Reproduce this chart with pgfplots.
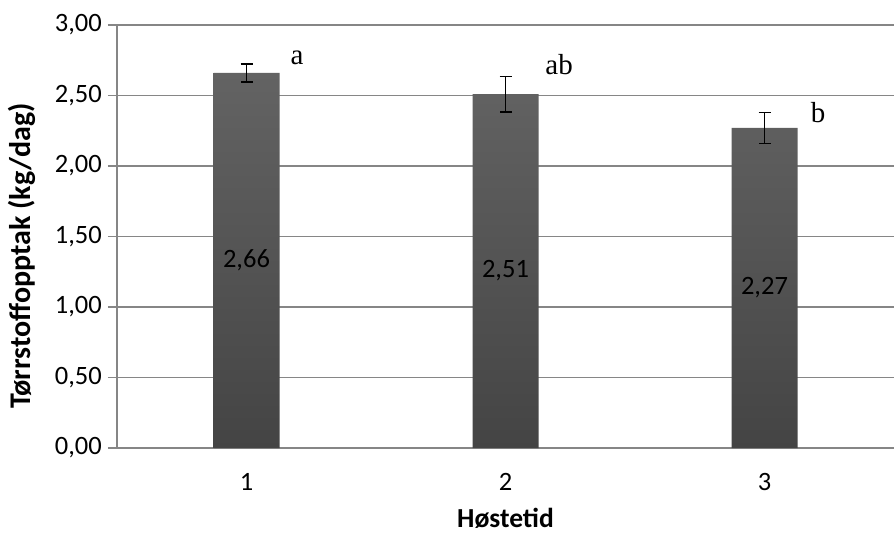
\documentclass[border=0pt]{standalone}
\usepackage{fontspec}
\setmainfont{Carlito}
\newfontfamily\timesf{Liberation Serif}
\usepackage{pgfplots}
\pgfplotsset{compat=1.18}
\definecolor{axgray}{HTML}{868686}
\definecolor{bartop}{HTML}{636363}
\definecolor{barbot}{HTML}{444444}
\begin{document}
\begin{tikzpicture}[x=1pt,y=1pt]
\useasboundingbox (0,0) rectangle (894,533);
\begin{axis}[
  at={(117pt,85pt)}, anchor=south west,
  scale only axis, width=777pt, height=423pt,
  xmin=0.5, xmax=3.5, ymin=0, ymax=3,
  separate axis lines,
  axis x line*=bottom, axis y line*=left,
  axis line style={draw=axgray, line width=1.3pt, -},
  xtick={1,2,3}, xticklabels={1,2,3},
  xtick style={draw=none},
  ytick={0,0.5,1,1.5,2,2.5,3},
  tick align=outside, major tick length=9pt,
  ytick style={draw=axgray, line width=1.3pt},
  ymajorgrids, major grid style={draw=axgray, line width=1.3pt},
  /pgf/number format/.cd, fixed, fixed zerofill, precision=2, use comma, assume math mode=true,
  /pgfplots/.cd,
  ticklabel style={font=\fontsize{26.5}{29}\selectfont, inner sep=0pt},
  yticklabel style={anchor=east, xshift=-6pt},
  xticklabel style={anchor=center, yshift=-25pt},
  ylabel={Tørrstoffopptak (kg/dag)},
  ylabel style={font=\bfseries\fontsize{30}{33}\selectfont, at={(axis description cs:-0.1223,0.454)}, anchor=center},
  xlabel={Høstetid},
  xlabel style={font=\bfseries\fontsize{27.5}{30}\selectfont, at={(axis description cs:0.5,-0.1655)}, anchor=center},
  clip=false,
]
\addplot[ybar, bar width=66pt, bar shift=0pt, draw=none, top color=bartop, bottom color=barbot,
  nodes near coords, point meta=y,
  visualization depends on=rawy \as \rawy,
  every node near coord/.append style={anchor=center, font=\fontsize{26.5}{29}\selectfont, text=black,
     shift={(axis direction cs:0,-\rawy/2)}, /pgf/number format/.cd, fixed, fixed zerofill, precision=2, use comma, assume math mode=true},
  error bars/.cd, y dir=both, y explicit,
  error bar style={black, line width=1.6pt},
  error mark options={rotate=90, black, mark size=6pt, line width=1.6pt}]
  coordinates {(1,2.66) +- (0,0.065) (2,2.51) +- (0,0.125) (3,2.27) +- (0,0.11)};
\addplot[draw=none, mark=none, nodes near coords, point meta=explicit symbolic,
  every node near coord/.append style={anchor=center, font=\timesf\fontsize{29}{32}\selectfont, text=black, inner sep=0pt}]
  coordinates {(1.195,2.77)[a] (2.207,2.72)[ab] (3.207,2.38)[b]};
\end{axis}
\end{tikzpicture}
\end{document}
